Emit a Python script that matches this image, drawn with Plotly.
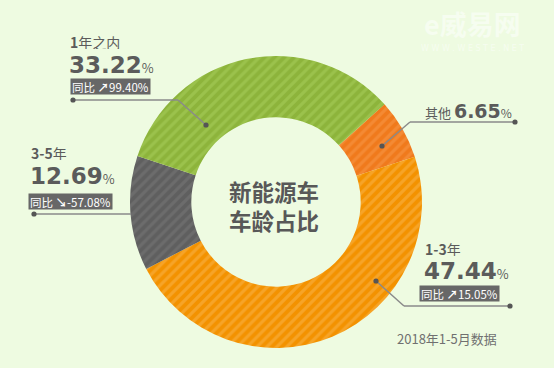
import plotly.graph_objects as go

# ---- data ----
categories = ["其他", "1-3年", "3-5年", "1年之内"]
shares = [6.65, 47.44, 12.69, 33.22]
yoy_labels = {"1-3年": "15.05%", "3-5年": "-57.08%", "1年之内": "99.40%"}
yoy_up = {"1-3年": True, "3-5年": False, "1年之内": True}
center_title = ["新能源车", "车龄占比"]
footnote = "2018年1-5月数据"

base_colors = ["#f07a1c", "#f39200", "#5f5f5f", "#8db43b"]
stripe_colors = ["#f48a34", "#f6a428", "#6c6c6c", "#9bc24c"]

W, H = 554, 368
BG = "#eefbe1"
TXT = "#5b5b5b"
LINE = "#8a8a8a"

cx, cy, R = 276, 202, 146

fig = go.Figure()
fig.add_trace(go.Pie(
    labels=categories, values=shares, sort=False, direction="clockwise",
    rotation=48, hole=0.58, textinfo="none", hoverinfo="label+percent",
    showlegend=False,
    marker=dict(colors=base_colors,
                pattern=dict(shape="/", fillmode="replace", bgcolor=base_colors,
                             fgcolor=stripe_colors, size=7, solidity=0.45)),
    domain=dict(x=[(cx - R) / W, (cx + R) / W], y=[1 - (cy + R) / H, 1 - (cy - R) / H]),
))

ann = []
shapes = []

def txt(x, y, text, size, color=TXT, family="Noto Sans CJK SC", xanchor="left", height=None, **kw):
    d = dict(x=x, y=y, xref="x", yref="y", text=text, showarrow=False,
             xanchor=xanchor, yanchor="middle",
             font=dict(size=size, color=color, family=family), **kw)
    if height:
        d["height"] = height
    ann.append(d)

def big(x, y, val, size=23):
    txt(x, y, f"<b>{val:.2f}</b><span style='font-size:13px;font-family:Noto Sans CJK SC'>%</span>",
        size, family="DejaVu Sans", height=20)

def box(x, y, cat):
    arrow = "↗" if yoy_up[cat] else "↘"
    txt(x, y, f"同比 <b>{arrow}</b>{yoy_labels[cat]}", 11.5, color="white",
        bgcolor="#676767", borderpad=1, height=13)

def line(pts):
    for (x0, y0), (x1, y1) in zip(pts[:-1], pts[1:]):
        shapes.append(dict(type="line", xref="x", yref="y", x0=x0, y0=y0, x1=x1, y1=y1,
                           line=dict(color=LINE, width=1.5)))

def dot(x, y, r=2.6):
    shapes.append(dict(type="circle", xref="x", yref="y", x0=x - r, x1=x + r, y0=y - r, y1=y + r,
                       fillcolor="#555555", line=dict(width=0)))

# 1年之内
txt(68, 41, "<b>1</b>年之内", 14, height=15)
big(67, 65, shares[3])
box(70, 86.5, "1年之内")
line([(73, 100), (178, 100), (206, 125)])
dot(73, 100); dot(206, 125)

# 3-5年
txt(29, 152, "<b>3-5</b>年", 14, height=15)
big(28, 176, shares[2])
box(28, 201.5, "3-5年")
line([(34, 214), (131, 214)])
dot(34, 214)

# 其他
txt(423, 111, "其他 <span style='font-size:19px;font-family:DejaVu Sans'><b>6.65</b></span>"
    "<span style='font-size:12px'>%</span>", 13, height=18)
line([(382, 146), (410, 122), (515, 122)])
dot(382, 146); dot(515, 122)

# 1-3年
txt(423, 248, "<b>1-3</b>年", 14, height=15)
big(422, 271, shares[1])
box(419, 293.5, "1-3年")
line([(376, 281), (404, 306), (510, 306)])
dot(376, 281); dot(510, 306)

# footnote
txt(395, 338, footnote, 13, color="#707070", height=15)

# center title (one text, two lines)
txt(cx - 2, 205, "<b>" + "<br>".join(center_title) + "</b>", 22.5, color="#585858",
    xanchor="center")

# watermark
txt(472, 23, "<b>e威易网</b>", 27, color="rgba(255,255,255,0.5)", xanchor="center")
txt(472, 48, "W W W . W E S T E . N E T", 8, color="rgba(255,255,255,0.5)", xanchor="center",
    family="DejaVu Sans", height=10)

fig.update_layout(
    width=W, height=H, autosize=False,
    margin=dict(l=0, r=0, t=0, b=0),
    paper_bgcolor=BG, plot_bgcolor=BG,
    xaxis=dict(range=[0, W], visible=False, fixedrange=True, domain=[0, 1]),
    yaxis=dict(range=[H, 0], visible=False, fixedrange=True, domain=[0, 1]),
    annotations=ann, shapes=shapes,
)
fig.write_html("out.html", config={"displayModeBar": False},
               post_script="document.body.style.margin='0';")
